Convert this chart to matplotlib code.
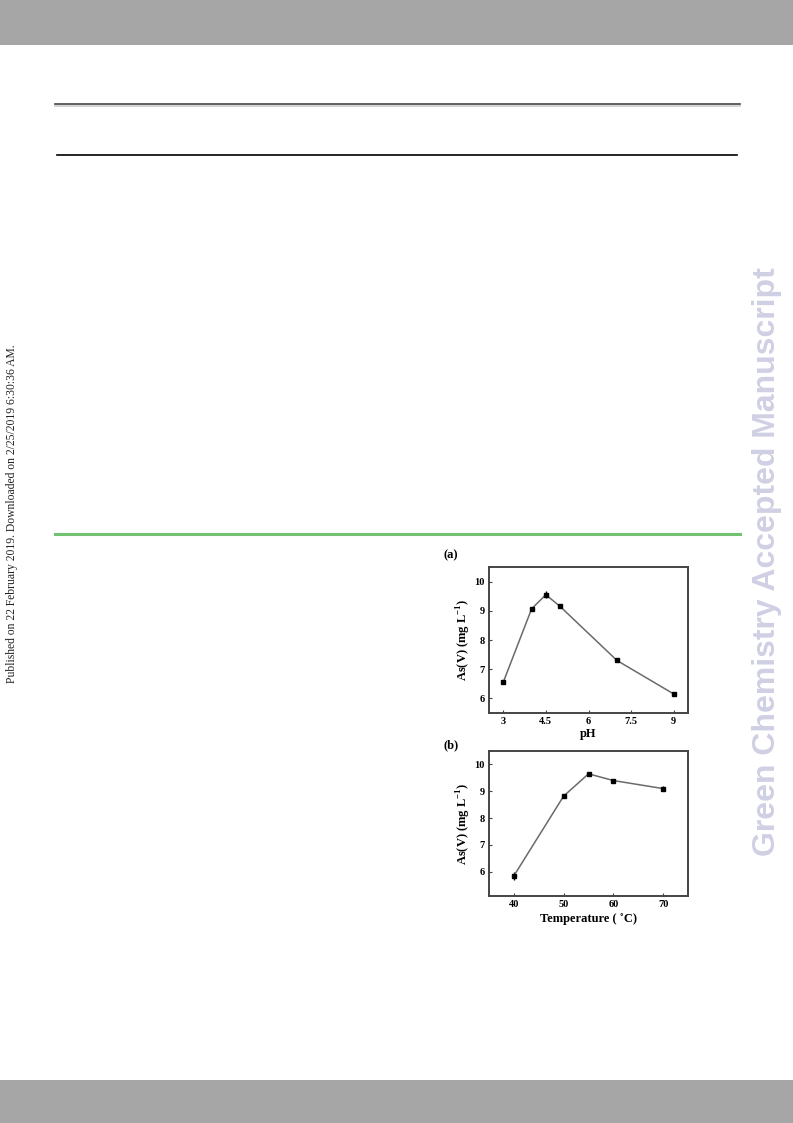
import numpy as np
import matplotlib.pyplot as plt
from matplotlib.patches import Rectangle

#==============================================================================
# data
#==============================================================================

ph = [3, 4, 4.5, 5, 7, 9]
as_ph = [6.55, 9.07, 9.55, 9.15, 7.30, 6.15]
err_ph = [0.03, 0.04, 0.12, 0.05, 0.05, 0.08]

temp = [40, 50, 55, 60, 70]
as_temp = [5.85, 8.82, 9.65, 9.40, 9.10]
err_temp = [0.15, 0.04, 0.03, 0.04, 0.09]

ph_ticks = [3, 4.5, 6, 7.5, 9]
ph_ticklabels = ['3', '4.5', '6', '7.5', '9']
temp_ticks = [40, 50, 60, 70]
y_ticks = [6, 7, 8, 9, 10]

#==============================================================================
# styles
#==============================================================================

W, H = 793, 1123
serif = ['Liberation Serif', 'DejaVu Serif']

plt.rcParams['mathtext.fontset'] = 'custom'
plt.rcParams['mathtext.rm'] = 'Liberation Serif'
plt.rcParams['mathtext.bf'] = 'Liberation Serif:bold'

line_style = {
    'color':        '#6a6a6a',
    'linewidth':    1.1,
    'marker':       's',
    'markersize':   2.2,
    'mfc':          'k',
    'mec':          'k',
    'ecolor':       'k',
    'elinewidth':   1.0,
    'capsize':      0,
}

font_tick = {'family': serif, 'size': 7.5, 'weight': 'bold'}
font_label = {'family': serif, 'size': 9, 'weight': 'bold'}


def px(x, y):
    return x / W, 1 - y / H


def chart_axes(fig, left, top, right, bottom):
    ax = fig.add_axes([left / W, 1 - bottom / H, (right - left) / W, (bottom - top) / H])
    for sp in ax.spines.values():
        sp.set_linewidth(1.4)
        sp.set_color('#444444')
    ax.tick_params(direction='in', length=2, width=0.8, color='#444444',
                   pad=3)
    return ax


fig = plt.figure(figsize=(W / 100, H / 100), dpi=100)

# page decorations
page = fig.add_axes([0, 0, 1, 1])
page.set_xlim(0, W)
page.set_ylim(H, 0)
page.axis('off')
page.add_patch(Rectangle((0, 0), W, 45, fc='#a6a6a6', ec='none'))
page.add_patch(Rectangle((0, 1080), W, 43, fc='#a6a6a6', ec='none'))
page.plot([55, 740], [105.5, 105.5], color='#cccccc', lw=1.2)
page.plot([55, 740], [104, 104], color='#444444', lw=1.2)
page.plot([57, 737], [155, 155], color='k', lw=1.2)
page.plot([55, 740], [534, 534], color='#72c072', lw=2.2)

page.text(12, 514, 'Published on 22 February 2019. Downloaded on 2/25/2019 6:30:36 AM.',
          rotation=90, ha='center', va='center', family=serif, size=8.4, color='#222222')
page.text(767, 562, 'Green Chemistry Accepted Manuscript', rotation=90,
          ha='center', va='center', family=['Liberation Sans', 'DejaVu Sans'],
          weight='bold', size=23, color='#d0d0e4')

# (a) pH
ax1 = chart_axes(fig, 489, 567, 688, 713)
ax1.errorbar(ph, as_ph, yerr=err_ph, **line_style)
ax1.set_xlim(2.5, 9.5)
ax1.set_ylim(5.5, 10.5)
ax1.set_xticks(ph_ticks)
ax1.set_xticklabels(ph_ticklabels, **font_tick)
ax1.set_yticks(y_ticks)
ax1.set_yticklabels([str(v) for v in y_ticks], **font_tick)
ax1.set_xlabel('pH', labelpad=1, **font_label)
ax1.set_ylabel(r'As(V) (mg L$^{\mathbf{-1}}$)', labelpad=1, **font_label)

# (b) temperature
ax2 = chart_axes(fig, 489, 751, 688, 896)
ax2.errorbar(temp, as_temp, yerr=err_temp, **line_style)
ax2.set_xlim(35, 75)
ax2.set_ylim(5.1, 10.5)
ax2.set_xticks(temp_ticks)
ax2.set_xticklabels([str(v) for v in temp_ticks], **font_tick)
ax2.set_yticks(y_ticks)
ax2.set_yticklabels([str(v) for v in y_ticks], **font_tick)
ax2.set_xlabel('Temperature ( ˚C)', labelpad=3, **font_label)
ax2.set_ylabel(r'As(V) (mg L$^{\mathbf{-1}}$)', labelpad=1, **font_label)

fig.text(*px(444, 555), '(a)', ha='left', va='center', family=serif, size=9, weight='bold')
fig.text(*px(444, 745), '(b)', ha='left', va='center', family=serif, size=9, weight='bold')

fig.savefig('out.png', dpi=100)
